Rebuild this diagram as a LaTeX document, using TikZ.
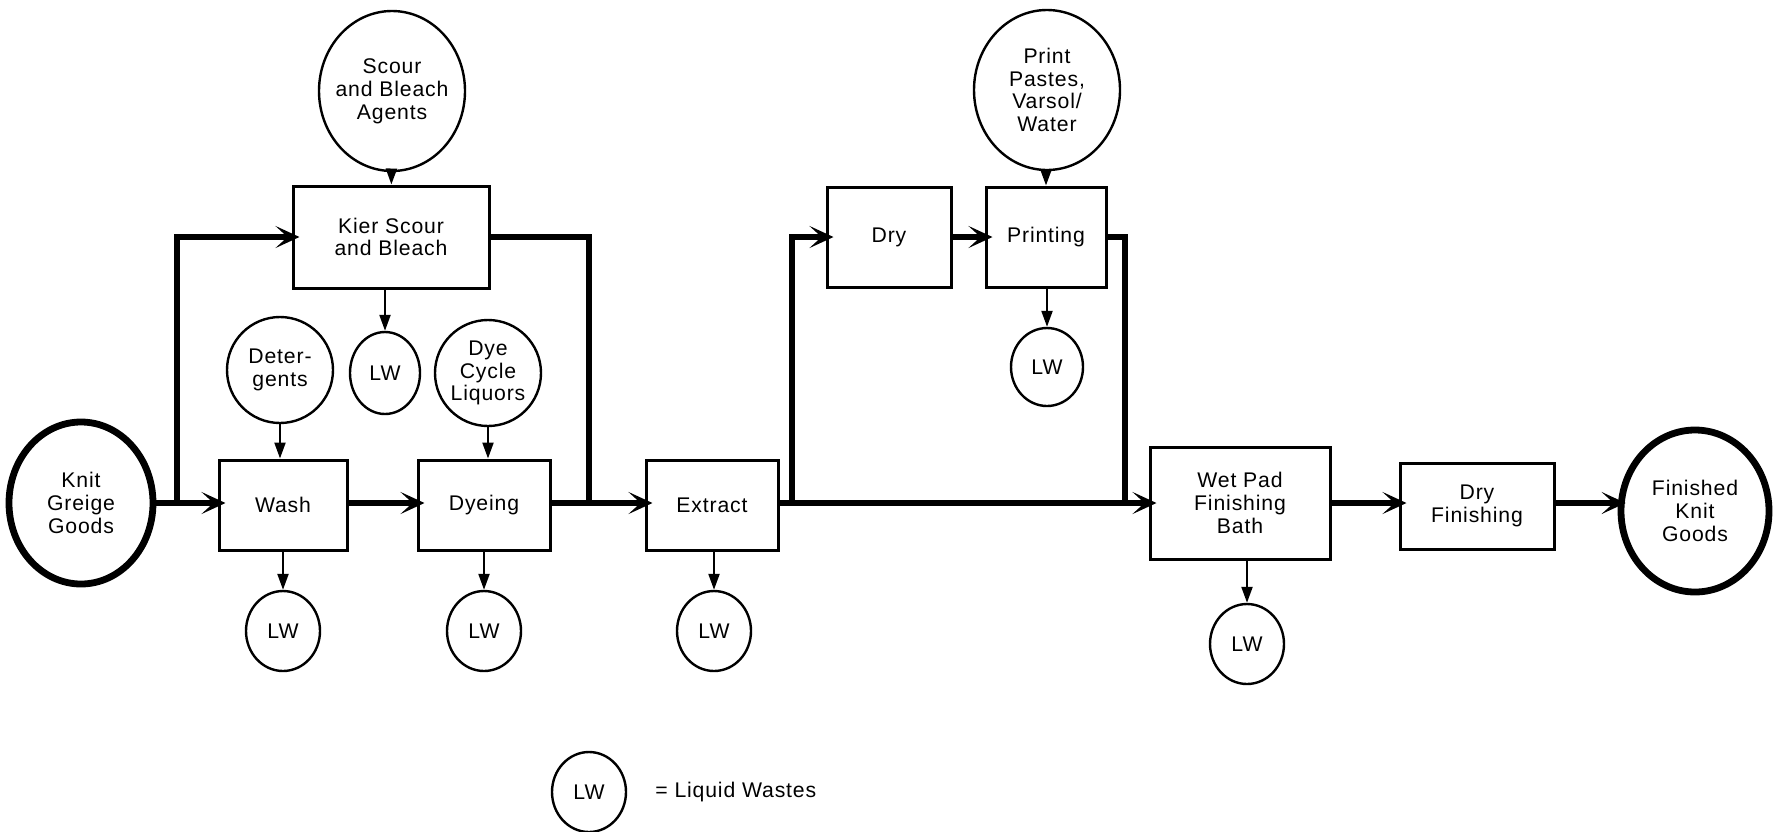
\documentclass[tikz,border=0pt]{standalone}
\usepackage{fontspec}
\setmainfont[LetterSpace=4]{Liberation Sans}
\usetikzlibrary{shapes.geometric,arrows.meta}
\begin{document}
\begin{tikzpicture}[x=0.5pt,y=-0.5pt,
  every node/.style={font=\fontsize{10.6}{11.4}\selectfont, align=center, inner sep=0pt},
  proc/.style={draw, line width=1.5pt, rectangle},
  circ/.style={draw, line width=1.2pt, ellipse},
  endcirc/.style={draw, line width=3.4pt, ellipse},
  flow/.style={line width=3.4pt, -{Stealth[length=12pt,width=11pt,inset=6pt]}, shorten >=-4pt},
  flowline/.style={line width=3.4pt},
  feed/.style={line width=1.1pt, -{Triangle[length=8pt,width=5.5pt]}}
]
\useasboundingbox (0,0) rectangle (1782,831);

% main row
\node[endcirc, minimum width=72pt, minimum height=81pt] (knit) at (81,503) {Knit\\Greige\\Goods};
\node[proc, minimum width=64pt, minimum height=45pt] (wash) at (283,505) {Wash};
\node[proc, minimum width=66pt, minimum height=45pt] (dye) at (484,505) {Dyeing};
\node[proc, minimum width=66pt, minimum height=45pt] (extract) at (712,505) {Extract};
\node[proc, minimum width=90pt, minimum height=56pt] (wetpad) at (1240,503) {Wet Pad\\Finishing\\Bath};
\node[proc, minimum width=77pt, minimum height=43pt] (dryfin) at (1477,506) {Dry\\Finishing};
\node[endcirc, minimum width=74pt, minimum height=81pt] (fin) at (1695,511) {Finished\\Knit\\Goods};

% upper row
\node[proc, minimum width=98pt, minimum height=51pt] (kier) at (391,237) {Kier Scour\\and Bleach};
\node[circ, inner xsep=-5pt, minimum width=73pt, minimum height=80pt] (scour) at (392,91) {Scour\\and Bleach\\Agents};
\node[proc, minimum width=62pt, minimum height=50pt] (dry) at (889,237) {Dry};
\node[proc, minimum width=60pt, minimum height=50pt] (print) at (1046,237) {Printing};
\node[circ, minimum width=73pt, minimum height=80pt] (paste) at (1047,90) {Print\\Pastes,\\Varsol/\\Water};

% feed circles
\node[circ, minimum width=53pt, minimum height=53pt] (deter) at (280,370) {Deter-\\gents};
\node[circ, minimum width=35pt, minimum height=41pt] (lwk) at (385,373) {LW};
\node[circ, minimum width=53pt, minimum height=53pt] (dyec) at (488,373) {Dye\\Cycle\\Liquors};
\node[circ, minimum width=36pt, minimum height=39pt] (lwp) at (1047,367) {LW};

% LW below
\node[circ, minimum width=37pt, minimum height=40pt] (lww) at (283,631) {LW};
\node[circ, minimum width=37pt, minimum height=40pt] (lwd) at (484,631) {LW};
\node[circ, minimum width=37pt, minimum height=40pt] (lwe) at (714,631) {LW};
\node[circ, minimum width=37pt, minimum height=40pt] (lwwp) at (1247,644) {LW};

% legend
\node[circ, minimum width=37pt, minimum height=40pt] (lwleg) at (589,792) {LW};
\node[anchor=west] (legtext) at (655,792) {= Liquid Wastes};

% junctions
\coordinate (j1) at (177,503);
\coordinate (j2) at (589,503);
\coordinate (j3) at (792,503);
\coordinate (j4) at (1125,503);

% main flow
\draw[flow] (knit.east |- j1) -- (wash.west |- j1);
\draw[flow] (wash.east |- j1) -- (dye.west |- j1);
\draw[flow] (dye.east |- j1) -- (extract.west |- j1);
\draw[flow] (extract.east |- j1) -- (wetpad.west |- j1);
\draw[flow] (wetpad.east |- j1) -- (dryfin.west |- j1);
\draw[flow] (dryfin.east |- j1) -- (fin.west |- j1);

% bypass loops
\draw[flow] (j1) |- (kier.west);
\draw[flowline] (kier.east) -| (j2);
\draw[flow] (j3) |- (dry.west);
\draw[flow] (dry) -- (print);
\draw[flowline] (print.east) -| (j4);

% feeds
\draw[feed] (scour) -- (kier);
\draw[feed] (paste.south -| print) -- (print);
\draw[feed] (deter) -- (wash.north -| deter);
\draw[feed] (dyec) -- (dye.north -| dyec);
\draw[feed] (kier.south -| lwk) -- (lwk);
\draw[feed] (print.south -| lwp) -- (lwp);
\draw[feed] (wash) -- (lww);
\draw[feed] (dye) -- (lwd);
\draw[feed] (extract.south -| lwe) -- (lwe);
\draw[feed] (wetpad.south -| lwwp) -- (lwwp);
\end{tikzpicture}
\end{document}
